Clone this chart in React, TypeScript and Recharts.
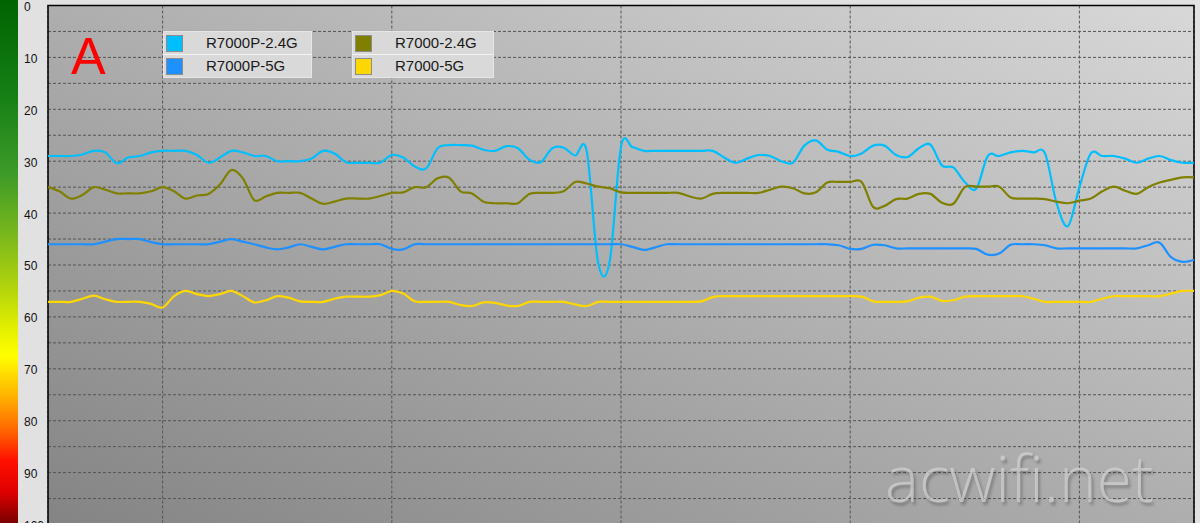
import React from 'react';
import { LineChart, Line, XAxis, YAxis, CartesianGrid, Legend, ReferenceArea } from 'recharts';

// sample index (time steps)
const samples: number[] = Array.from({ length: 101 }, (_, i) => i);

const seriesNames = ['R7000P-2.4G', 'R7000P-5G', 'R7000-2.4G', 'R7000-5G'];
const seriesKeys = ['p24', 'p5', 'a24', 'a5'];
const seriesColors = ['#00bfff', '#1e90ff', '#808000', '#ffd700'];

const r7000p24 = [
  29, 29, 29, 28.7, 28, 28.3, 30.4, 29.3, 29, 28.3,
  28, 28, 28, 28.8, 30.3, 29.3, 28, 28.3, 29, 29,
  30, 30, 30, 29.5, 28, 28.5, 30.2, 30.3, 30.3, 30.3,
  28.8, 29.3, 31, 31.4, 27.5, 26.9, 26.9, 27, 27.8, 28,
  27.1, 27.5, 29.7, 30.2, 27.5, 27.4, 28.9, 28, 49.5, 49.5,
  27.2, 27.3, 28, 28, 28, 28, 28, 28, 28, 29.3,
  30.3, 29.5, 28.8, 29, 30, 30.3, 27, 26, 27.8, 28.2,
  29, 28.5, 27, 27, 28.8, 29.2, 27.5, 26.8, 30.8, 31.2,
  34, 35.3, 29, 29, 28.3, 28, 28.3, 28.5, 38, 42.5,
  35, 28.5, 29, 29, 29.5, 30.3, 29.5, 29, 29.8, 30.3, 30.3,
];

const r7000p5 = [
  46, 46, 46, 46, 46, 45.5, 45, 45, 45, 45.6,
  46, 46, 46, 46, 46, 45.5, 45, 45.5, 46, 46.6,
  47, 46.6, 46, 46.5, 47, 46.5, 46, 46, 46, 46,
  46.9, 47, 46, 46, 46, 46, 46, 46, 46, 46,
  46, 46, 46, 46, 46, 46, 46, 46, 46, 46,
  46, 46.5, 47.1, 46.6, 46, 46, 46, 46, 46, 46,
  46, 46, 46, 46, 46, 46, 46, 46, 46, 46.2,
  46.9, 46.9, 46.1, 46.2, 46.8, 46.8, 46.8, 46.8, 46.8, 46.8,
  46.8, 46.9, 48, 47.8, 46.1, 46, 46, 46.2, 46.8, 46.8,
  46.8, 46.8, 46.8, 46.8, 46.8, 46.8, 46.2, 45.7, 48.5, 49.4, 49,
];

const r700024 = [
  35, 35.8, 37.2, 36.5, 35, 35.5, 36.2, 36.2, 36.2, 35.8,
  35, 35.8, 37.2, 36.6, 36.3, 34.5, 31.7, 33.3, 37.5, 36.8,
  36.1, 36.1, 36.1, 37.2, 38.2, 37.8, 37.2, 37.2, 37.2, 36.7,
  36.1, 36, 35, 35, 33.3, 33.2, 35.8, 36.2, 37.8, 38.1,
  38.1, 38.1, 36.3, 36.1, 36.1, 35.8, 34, 34.3, 34.9, 35.2,
  36, 36.1, 36.1, 36.1, 36.1, 36.1, 36.8, 37.2, 36.3, 36.1,
  36.1, 36.1, 36.1, 35.5, 34.9, 35.2, 36.2, 36, 34.1, 34,
  34, 34, 38.8, 38.6, 37.3, 37.2, 36.3, 36.3, 38, 38.2,
  35, 34.9, 34.9, 34.9, 37, 37.2, 37.2, 37.3, 37.8, 38.1,
  37.6, 37.2, 35.8, 34.9, 35.7, 36.3, 35, 34.1, 33.6, 33.1, 33.1,
];

const r70005 = [
  57.1, 57.1, 57.1, 56.5, 55.9, 56.6, 57.1, 57.1, 57.1, 57.5,
  58.2, 56, 55, 55.6, 56, 55.6, 55, 56, 57.2, 56.8,
  56, 56.3, 57, 57.1, 57.1, 56.5, 56.1, 56.1, 56.1, 55.8,
  55, 55.5, 57, 57.1, 57.1, 57.1, 57.7, 57.9, 57.2, 57.3,
  57.8, 57.9, 57.1, 57.1, 57.1, 57.1, 57.6, 57.9, 57.1, 57.1,
  57.1, 57.1, 57.1, 57.1, 57.1, 57.1, 57.1, 57, 56.2, 56,
  56, 56, 56, 56, 56, 56, 56, 56, 56, 56,
  56, 56.1, 57, 57.1, 57.1, 57, 56.3, 56.1, 56.9, 56.8,
  56.1, 56, 56, 56, 56, 56, 56.5, 57.1, 57.1, 57.1,
  57.1, 57.1, 56.5, 56, 56, 56, 56, 56, 55.5, 55, 55,
];

const seriesValues = [r7000p24, r7000p5, r700024, r70005];

const yTicks = [0, 5, 10, 15, 20, 25, 30, 35, 40, 45, 50, 55, 60, 65, 70, 75, 80, 85, 90, 95, 100];
const xGridTicks = [10, 30, 50, 70, 90];

const data = samples.map((t, i) => {
  const row: Record<string, number> = { t };
  seriesKeys.forEach((k, s) => {
    row[k] = seriesValues[s][i];
  });
  return row;
});

// Cardinal spline curve factory (same algorithm as d3's curveCardinal)
const makeCardinal = (k: number) => (context: any) => {
  let x0 = NaN, y0 = NaN, x1 = NaN, y1 = NaN, x2 = NaN, y2 = NaN;
  let pt = 0;
  let line = NaN;
  const seg = (x: number, y: number) => {
    context.bezierCurveTo(
      x1 + k * (x2 - x0),
      y1 + k * (y2 - y0),
      x2 + k * (x1 - x),
      y2 + k * (y1 - y),
      x2,
      y2
    );
  };
  return {
    areaStart() { line = 0; },
    areaEnd() { line = NaN; },
    lineStart() {
      x0 = x1 = x2 = y0 = y1 = y2 = NaN;
      pt = 0;
    },
    lineEnd() {
      if (pt === 2) context.lineTo(x2, y2);
      else if (pt === 3) seg(x1, y1);
      if (line || (line !== 0 && pt === 1)) context.closePath();
      line = 1 - line;
    },
    point(x: number, y: number) {
      x = +x; y = +y;
      if (pt === 0) {
        pt = 1;
        if (line) context.lineTo(x, y); else context.moveTo(x, y);
      } else if (pt === 1) {
        pt = 2;
        x1 = x; y1 = y;
      } else {
        pt = 3;
        seg(x, y);
      }
      x0 = x1; x1 = x2; x2 = x;
      y0 = y1; y1 = y2; y2 = y;
    },
  };
};
const splineCurve = makeCardinal(1 / 6);

const YTick = (props: any) => {
  const { y, payload } = props;
  if (payload.value % 10 !== 0) return <g />;
  return (
    <text x={24} y={y} dy="0.45em" fontSize={12} fontFamily="'Liberation Sans', Arial, sans-serif" fill="#111" textAnchor="start">
      {payload.value}
    </text>
  );
};

const LegendContent = (props: any) => {
  const items = [...(props.payload || [])].sort(
    (a: any, b: any) => seriesNames.indexOf(a.value) - seriesNames.indexOf(b.value)
  );
  const cols = [items.slice(0, 2), items.slice(2, 4)];
  const colWidths = [149, 142];
  const colLefts = [0, 189];
  return (
    <div style={{ position: 'relative', width: 340, height: 46 }}>
      {cols.map((col, ci) => (
        <div
          key={ci}
          style={{
            position: 'absolute',
            left: colLefts[ci],
            top: 0,
            width: colWidths[ci],
            border: '1px solid #e6e6e6',
            boxSizing: 'border-box',
          }}
        >
          {col.map((it: any, ri: number) => (
            <div
              key={it.value}
              style={{
                position: 'relative',
                height: 22,
                background: '#d9d9d9',
                borderBottom: ri === 0 ? '1px solid #f4f4f4' : 'none',
              }}
            >
              <div
                style={{
                  position: 'absolute',
                  left: 2,
                  top: 3,
                  width: 15,
                  height: 15,
                  background: it.color,
                  border: '1px solid #8c8c8c',
                }}
              />
              <div
                style={{
                  position: 'absolute',
                  left: 42,
                  top: 0,
                  lineHeight: '22px',
                  fontSize: 15,
                  fontFamily: "'Liberation Sans', Arial, sans-serif",
                  color: '#1a1a1a',
                  whiteSpace: 'nowrap',
                }}
              >
                {it.value}
              </div>
            </div>
          ))}
        </div>
      ))}
    </div>
  );
};

export default function App() {
  return (
    <div
      style={{
        position: 'absolute',
        left: 0,
        top: 0,
        width: 1200,
        height: 523,
        overflow: 'hidden',
        background: '#e1e1e1',
      }}
    >
      <div
        style={{
          position: 'absolute',
          left: 0,
          top: 0,
          width: 18,
          height: 523,
          background:
            'linear-gradient(to bottom, #006400 0%, #157f15 18%, #3c9a28 33%, #7ab81c 45%, #b2d40c 55%, #e4f000 63%, #ffff00 68%, #ffb000 76%, #ff6a00 82%, #ff1000 88%, #e00000 94%, #7a0000 100%)',
        }}
      />
      <LineChart width={1200} height={530} data={data} margin={{ top: 5.5, right: 6, bottom: 5.5, left: 18 }}>
        <defs>
          <linearGradient id="plotBg" x1="0" y1="1" x2="1" y2="0">
            <stop offset="0%" stopColor="#848484" />
            <stop offset="100%" stopColor="#d8d8d8" />
          </linearGradient>
        </defs>
        <CartesianGrid fill="url(#plotBg)" fillOpacity={1} stroke="#555555" strokeDasharray="3 2" />
        <XAxis type="number" dataKey="t" domain={[0, 100]} ticks={xGridTicks} hide />
        <YAxis
          type="number"
          domain={[0, 100]}
          reversed
          ticks={yTicks}
          interval={0}
          width={30}
          axisLine={false}
          tickLine={false}
          tick={YTick}
        />
        {seriesKeys.map((k, s) => (
          <Line
            key={k}
            type={splineCurve as any}
            dataKey={k}
            name={seriesNames[s]}
            stroke={seriesColors[s]}
            strokeWidth={2.2}
            dot={false}
            activeDot={false}
            isAnimationActive={false}
          />
        ))}
        <ReferenceArea x1={0} x2={100} y1={0} y2={100} fill="none" stroke="#000" strokeWidth={1.5} ifOverflow="visible" />
        <Legend
          layout="horizontal"
          verticalAlign="middle"
          align="center"
          content={LegendContent}
          wrapperStyle={{ left: 163, top: 31, width: 340, height: 46 }}
        />
      </LineChart>
      <div
        style={{
          position: 'absolute',
          left: 71,
          top: 30,
          fontSize: 52,
          lineHeight: '52px',
          fontFamily: "'Liberation Sans', Arial, sans-serif",
          color: '#ff0000',
          pointerEvents: 'none',
        }}
      >
        A
      </div>
      <div
        style={{
          position: 'absolute',
          left: 885,
          top: 446,
          fontSize: 64,
          lineHeight: '64px',
          fontFamily: "'Open Sans', sans-serif",
          fontWeight: 300,
          color: 'rgba(212,212,212,0.7)',
          textShadow: '2px 3px 3px rgba(0,0,0,0.25)',
          pointerEvents: 'none',
          whiteSpace: 'nowrap',
        }}
      >
        acwifi.net
      </div>
    </div>
  );
}
